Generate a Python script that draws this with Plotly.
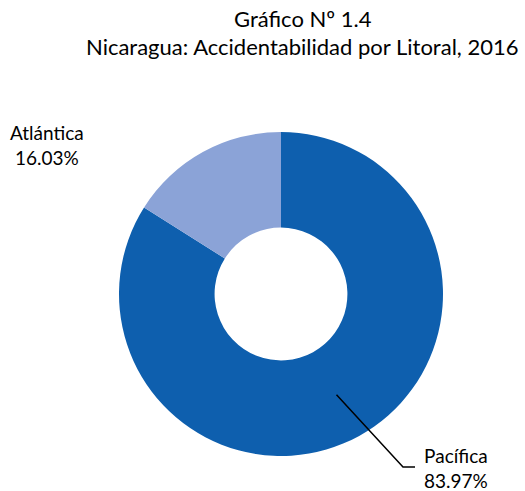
import math
import plotly.graph_objects as go

labels = ["Pacífica", "Atlántica"]
values = [83.97, 16.03]
colors = ["#0E5FAE", "#8BA3D7"]
title_lines = ["Gráfico Nº 1.4", "Nicaragua: Accidentabilidad por Litoral, 2016"]

W, H = 525, 491
FONT = "Lato"
cx, cy, R = 281, 294, 162

def px(x):
    return x / W

def py(y):
    return 1 - y / H

fig = go.Figure(go.Pie(
    labels=labels, values=values, hole=0.41, sort=False, direction="clockwise",
    rotation=0, marker=dict(colors=colors, line=dict(width=0)),
    textinfo="none", hoverinfo="label+percent",
    domain=dict(x=[px(cx - R), px(cx + R)], y=[py(cy + R), py(cy - R)]),
))

# leader line for Pacífica from slice mid-angle
total = sum(values)
mid = values[0] / 2 / total * 2 * math.pi
r0 = 0.71 * R
sx, sy = cx + r0 * math.sin(mid), cy - r0 * math.cos(mid)
ex, ey = 403, 467
hx = 415
fig.add_shape(type="path",
              path=f"M {px(sx)},{py(sy)} L {px(ex)},{py(ey)} L {px(hx)},{py(ey)}",
              xref="paper", yref="paper", line=dict(color="black", width=1.5))

pcts = [f"{v:.2f}%" for v in values]
lab_font = dict(family=FONT, size=19, color="black")
fig.add_annotation(x=px(456), y=py(467.5), xref="paper", yref="paper",
                   xanchor="center", yanchor="middle",
                   text=f"{labels[0]}<br>{pcts[0]}", showarrow=False,
                   font=lab_font, align="center")
fig.add_annotation(x=px(47), y=py(145), xref="paper", yref="paper",
                   xanchor="center", yanchor="middle",
                   text=f"{labels[1]}<br>{pcts[1]}", showarrow=False,
                   font=lab_font, align="center")

title_font = dict(family=FONT, size=22, color="black")
fig.add_annotation(x=px(303), y=py(19), xref="paper", yref="paper", text=title_lines[0],
                   xanchor="center", yanchor="middle",
                   showarrow=False, font=title_font)
fig.add_annotation(x=px(302), y=py(47), xref="paper", yref="paper", text=title_lines[1],
                   xanchor="center", yanchor="middle",
                   showarrow=False, font=title_font)

fig.update_layout(width=W, height=H, margin=dict(l=0, r=0, t=0, b=0),
                  showlegend=False, paper_bgcolor="white", plot_bgcolor="white")
fig.write_html("out.html", config={"displayModeBar": False},
               post_script="document.body.style.margin='0';")
